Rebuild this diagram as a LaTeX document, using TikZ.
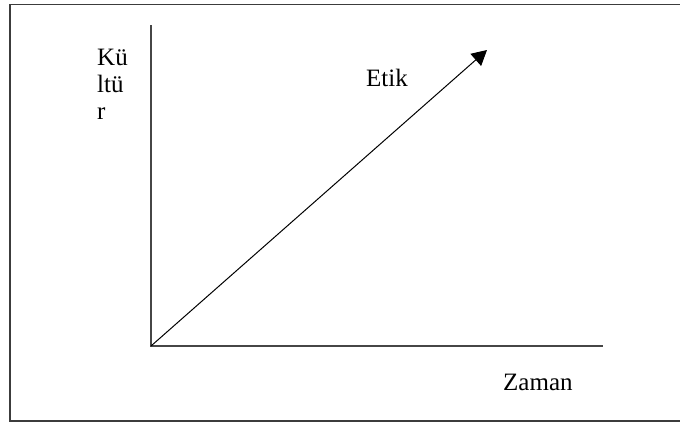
\documentclass[tikz,border=0pt]{standalone}
\usepackage{fontspec}
\setmainfont{Liberation Serif}
\usepackage{tikz}
\usetikzlibrary{arrows.meta}
\usepackage{xcolor}
\definecolor{framegray}{RGB}{60,60,60}
\definecolor{axisgray}{RGB}{70,70,70}
\definecolor{lineblack}{RGB}{0,0,0}

\begin{document}
\begin{tikzpicture}[x=1pt, y=-1pt, font=\fontsize{25}{27}\selectfont,
  axisline/.style={draw=axisgray, line width=1.3pt},
  lbl/.style={inner sep=0pt, text=lineblack}]
\useasboundingbox (0,0) rectangle (680,423);
% outer frame, open on the right
\draw[framegray, line width=1.4pt] (680,4.5) -- (10,4.5) -- (10,421) -- (680,421);

\coordinate (origin) at (151,346);
\coordinate (ytop) at (151,25);
\coordinate (xend) at (603,346);
\coordinate (tip) at (487,50);
\draw[axisline] (ytop) -- (origin) -- (xend);
\draw[-{Triangle[length=15pt, width=16pt]}, line width=1pt, lineblack] (origin) -- (tip);

\node[lbl, anchor=north west, align=left] (kultur) at (97,49) {Kü\\ltü\\r};
\node[lbl, anchor=base west] (etik) at (366,86) {Etik};
\node[lbl, anchor=base west] (zaman) at (503,390) {Zaman};
\end{tikzpicture}
\end{document}
